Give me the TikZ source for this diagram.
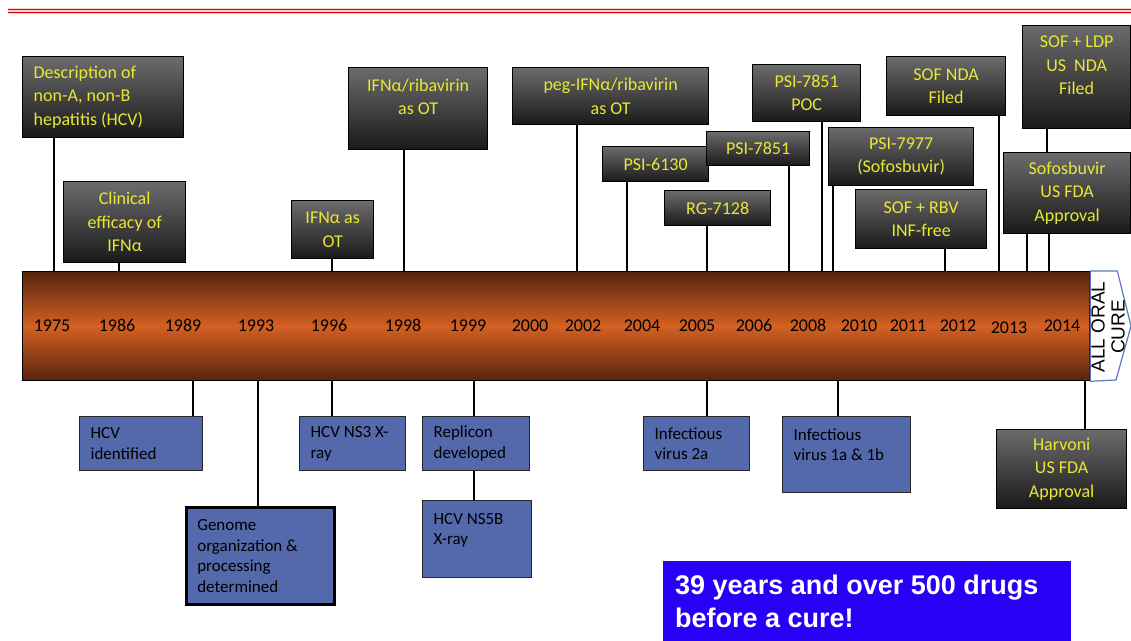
\documentclass[tikz,border=0pt]{standalone}
\usepackage{fontspec}
\setmainfont{Carlito}[Numbers=Lining]
\newfontfamily\arialfont{Liberation Sans}
\usetikzlibrary{calc,positioning}
\definecolor{evyellow}{RGB}{232,232,52}
\definecolor{evblue}{RGB}{84,104,172}
\definecolor{bardark}{RGB}{86,36,14}
\definecolor{barorange}{RGB}{212,96,34}
\definecolor{bannerblue}{RGB}{40,0,245}
\definecolor{cureblue}{RGB}{92,118,196}
\tikzstyle{conn} = [line width=2.6pt,black]

\begin{document}
\begin{tikzpicture}[x=1pt,y=-1pt,execute at begin node={\spaceskip=0pt\xspaceskip=0pt}]
    \tikzstyle{event}=[draw=black,line width=1.3pt,top color=black!58,bottom color=black!90,text=evyellow,font=\fontsize{18}{23.5}\selectfont,align=center,anchor=north west,inner sep=0pt]
    \tikzstyle{finding}=[draw=black!85,line width=1.3pt,fill=evblue,text=black,font=\fontsize{17}{20.5}\selectfont,align=left,anchor=north west,inner xsep=11pt,inner ysep=0pt]
    \tikzstyle{year}=[font=\fontsize{18}{20}\selectfont,text=black,anchor=base]
    \tikzstyle{bar}=[draw=black,line width=1.3pt,top color=bardark,bottom color=bardark,middle color=barorange,anchor=north west,inner sep=0pt]
    \useasboundingbox (0,0) rectangle (1131,640);

    % Red rule at the top
    \draw[red!18,line width=6pt] (8,10.5) -- (1131,10.5);
    \draw[red!85!black,line width=1pt] (8,9) -- (1131,9);
    \draw[red!85!black,line width=1pt] (8,12) -- (1131,12);

    % Draw the time bar and the arrow head
    \node[bar,minimum width=1067pt,minimum height=109pt] (bar) at (22,271) {};
    \draw[cureblue,fill=white,line width=1.2pt] (bar.north east) -- ++(27,0) -- (1131,326) -- (1116,380) -- (bar.south east) -- cycle;
    \node[rotate=90,align=center,font=\arialfont\fontsize{19}{20}\selectfont] (cure) at (1108,327) {ALL ORAL\\CURE};

    % Years
    \foreach \yr / \x in {1975/52,1986/117,1989/183,1993/256,1996/329,1998/403,1999/468,2000/530,2002/583,2004/642,2005/697,2006/754,2008/808,2010/859,2011/908,2012/958,2014/1062}
        \path node[year] (yr-\yr) at (\x,331) {\yr};
    \path node[year] (yr-2013) at (1009,333) {2013};

    % Draw the events above the bar
    \node[event,align=left,text width=139pt,inner xsep=11pt,minimum height=81pt] (desc) at (22,56) {Description of\\non-A, non-B\\hepatitis (HCV)};
    \node[event,minimum width=122pt,minimum height=81pt] (clin) at (63,181) {Clinical\\efficacy of\\IFNα};
    \node[event,minimum width=82pt,minimum height=58pt] (ifnot) at (291,200) {IFNα as\\OT};
    \node[event,minimum width=139pt,minimum height=82pt] (ifnrib) at (348,67) {IFNα/ribavirin\\as OT\\~};
    \node[event,minimum width=196pt,minimum height=57pt] (peg) at (512,67) {peg-IFNα/ribavirin\\as OT};
    \node[event,minimum width=106pt,minimum height=35pt] (p6130) at (602,146) {PSI-6130};
    \node[event,minimum width=106pt,minimum height=35pt] (rg) at (664,190) {RG-7128};
    \node[event,minimum width=103pt,minimum height=34pt] (p7851) at (706,131) {PSI-7851};
    \node[event,minimum width=108pt,minimum height=57pt] (poc) at (752,64) {PSI-7851\\POC};
    \node[event,minimum width=145pt,minimum height=58pt] (p7977) at (828,127) {PSI-7977\\(Sofosbuvir)};
    \node[event,minimum width=131pt,minimum height=59pt] (sofrbv) at (855,189) {SOF + RBV\\INF-free};
    \node[event,minimum width=119pt,minimum height=59pt] (sofnda) at (886,56) {SOF NDA\\Filed};
    \node[event,minimum width=108pt,minimum height=103pt] (sofldp) at (1022,25) {SOF + LDP\\US~ NDA\\Filed\\~};
    \node[event,minimum width=127pt,minimum height=81pt] (sofapp) at (1003,152) {Sofosbuvir\\US FDA\\Approval};

    % Draw the findings below the bar
    \node[finding,text width=101pt,minimum height=54pt] (hcvid) at (79,416) {HCV\\identified};
    \node[finding,text width=126pt,minimum height=97pt,line width=2.6pt,draw=black] (genome) at (185,506) {Genome\\organization \&\\processing\\determined};
    \node[finding,text width=84pt,minimum height=54pt] (ns3) at (299,416) {HCV NS3 X-\\ray};
    \node[finding,text width=85pt,minimum height=54pt] (replicon) at (422,416) {Replicon\\developed};
    \node[finding,text width=87pt,minimum height=77pt] (ns5b) at (422,500) {HCV NS5B\\X-ray\\~};
    \node[finding,text width=84pt,minimum height=54pt] (inf2a) at (643,416) {Infectious\\virus 2a};
    \node[finding,text width=106pt,minimum height=76pt] (inf1a) at (782,416) {Infectious\\virus 1a \& 1b\\~};
    \node[event,minimum width=130pt,minimum height=79pt] (harvoni) at (996,429) {Harvoni\\US FDA\\Approval};

    % Connectors
    \foreach \n / \x in {desc/54,clin/119,ifnot/332,ifnrib/404,peg/577,p6130/627,rg/707,p7851/789,poc/822,p7977/833,sofrbv/945,sofnda/999}
        \coordinate (up-\n) at (\x,271);
    \foreach \n in {desc,clin,ifnot,ifnrib,peg,p6130,rg,p7851,poc,p7977,sofrbv,sofnda}
        \draw[conn] (\n.south -| up-\n) -- (up-\n);
    \coordinate (up-sofA) at (1027,271);
    \coordinate (up-sofB) at (1049,271);
    \draw[conn] (sofapp.south -| up-sofA) -- (up-sofA);
    \draw[conn] (sofapp.south -| up-sofB) -- (up-sofB);
    \draw[conn] ([xshift=25pt]sofldp.south west) -- ([xshift=25pt]sofldp.south west |- sofapp.north);

    \foreach \n / \x in {hcvid/193,genome/258,ns3/332,replicon/474,inf2a/707,inf1a/838,harvoni/1085}
        \coordinate (dn-\n) at (\x,380);
    \foreach \n in {hcvid,genome,ns3,replicon,inf2a,inf1a,harvoni}
        \draw[conn] (dn-\n) -- (\n.north -| dn-\n);
    \draw[conn] (replicon.south -| dn-replicon) -- (ns5b.north -| dn-replicon);

    % Banner
    \node[anchor=north west,fill=bannerblue,text width=384pt,inner xsep=12pt,inner ysep=0pt,minimum height=80pt,text=white,align=left,font=\arialfont\bfseries\fontsize{27}{33}\selectfont] (banner) at (663,561) {39 years and over 500 drugs\\before a cure!};
\end{tikzpicture}
\end{document}
